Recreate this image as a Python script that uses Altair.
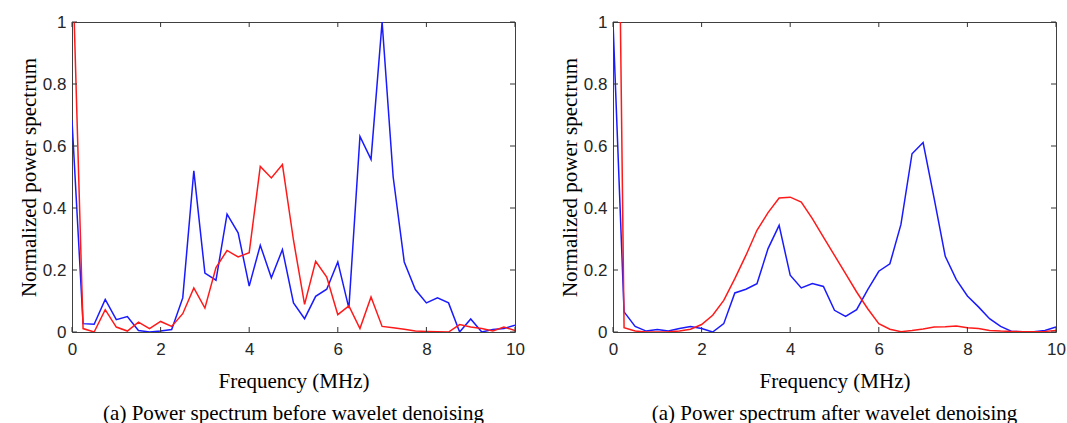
import altair as alt
import pandas as pd

freq = [0.0, 0.25, 0.5, 0.75, 1.0, 1.25, 1.5, 1.75, 2.0, 2.25, 2.5, 2.75, 3.0, 3.25, 3.5, 3.75,
        4.0, 4.25, 4.5, 4.75, 5.0, 5.25, 5.5, 5.75, 6.0, 6.25, 6.5, 6.75, 7.0, 7.25, 7.5, 7.75,
        8.0, 8.25, 8.5, 8.75, 9.0, 9.25, 9.5, 9.75, 10.0]

before_blue = [0.683, 0.027, 0.025, 0.105, 0.04, 0.05, 0.005, 0.0, 0.003, 0.008, 0.11, 0.52,
               0.19, 0.167, 0.38, 0.32, 0.148, 0.28, 0.175, 0.266, 0.094, 0.043, 0.115, 0.138,
               0.226, 0.077, 0.631, 0.557, 1.0, 0.5, 0.226, 0.137, 0.094, 0.11, 0.094, 0.0,
               0.042, 0.0, 0.008, 0.011, 0.022]
before_red = [1.25, 0.011, 0.0, 0.072, 0.016, 0.003, 0.032, 0.011, 0.034, 0.018, 0.059, 0.142,
              0.077, 0.208, 0.263, 0.242, 0.256, 0.534, 0.497, 0.54, 0.296, 0.089, 0.228, 0.177,
              0.056, 0.084, 0.011, 0.113, 0.018, 0.014, 0.009, 0.003, 0.002, 0.001, 0.0, 0.024,
              0.016, 0.011, 0.003, 0.016, 0.005]
after_blue = [1.0, 0.065, 0.018, 0.003, 0.008, 0.003, 0.011, 0.018, 0.011, 0.0, 0.027, 0.126,
              0.138, 0.156, 0.269, 0.344, 0.183, 0.142, 0.156, 0.147, 0.07, 0.05, 0.072, 0.137,
              0.196, 0.22, 0.347, 0.575, 0.611, 0.43, 0.244, 0.169, 0.116, 0.081, 0.043, 0.018,
              0.002, 0.001, 0.001, 0.005, 0.016]
after_red = [3.0, 0.014, 0.003, 0.0, 0.0, 0.001, 0.003, 0.009, 0.024, 0.054, 0.102, 0.172,
             0.247, 0.328, 0.385, 0.432, 0.435, 0.419, 0.366, 0.306, 0.247, 0.188, 0.129, 0.075,
             0.027, 0.009, 0.001, 0.005, 0.01, 0.016, 0.017, 0.019, 0.014, 0.011, 0.005, 0.003,
             0.002, 0.001, 0.001, 0.002, 0.005]

x_ticks = [0, 2, 4, 6, 8, 10]
y_ticks = [0, 0.2, 0.4, 0.6, 0.8, 1.0]
captions = ["(a) Power spectrum before wavelet denoising",
            "(a) Power spectrum after wavelet denoising"]

W, H = 443, 310
TICK = 5


def panel(blue, red, caption):
    df = pd.DataFrame({
        "f": freq * 2,
        "p": blue + red,
        "s": ["blue"] * len(freq) + ["red"] * len(freq),
    })
    xs = alt.Scale(domain=[0, 10], nice=False, zero=False)
    ys = alt.Scale(domain=[0, 1], nice=False)
    lines = alt.Chart(df).mark_line(strokeWidth=1.5, clip=True).encode(
        x=alt.X("f:Q", scale=xs,
                axis=alt.Axis(values=x_ticks, title="Frequency (MHz)", labelPadding=9,
                              titlePadding=13, labelFlush=False)),
        y=alt.Y("p:Q", scale=ys,
                axis=alt.Axis(values=y_ticks, format="~g", title="Normalized power spectrum",
                              labelPadding=6, titlePadding=3, labelFlush=False)),
        color=alt.Color("s:N", scale=alt.Scale(domain=["blue", "red"],
                                               range=["#1a1aff", "#ff1a1a"]), legend=None),
        detail="s:N",
    )
    xt = pd.DataFrame({"t": x_ticks})
    yt = pd.DataFrame({"t": y_ticks})
    tick_style = dict(color="#333333", strokeWidth=1)
    xb = alt.Chart(xt).mark_rule(**tick_style).encode(
        x=alt.X("t:Q", scale=xs), y=alt.value(H), y2=alt.value(H - TICK))
    xtop = alt.Chart(xt).mark_rule(**tick_style).encode(
        x=alt.X("t:Q", scale=xs), y=alt.value(0), y2=alt.value(TICK))
    yl = alt.Chart(yt).mark_rule(**tick_style).encode(
        y=alt.Y("t:Q", scale=ys), x=alt.value(0), x2=alt.value(TICK))
    yr = alt.Chart(yt).mark_rule(**tick_style).encode(
        y=alt.Y("t:Q", scale=ys), x=alt.value(W), x2=alt.value(W - TICK))
    return alt.layer(lines, xb, xtop, yl, yr).properties(
        width=W, height=H,
        title=alt.TitleParams(caption, orient="bottom", anchor="middle",
                              font="Liberation Serif", fontSize=21, fontWeight="normal",
                              color="#000000", offset=12),
    )


chart = alt.hconcat(
    panel(before_blue, before_red, captions[0]),
    panel(after_blue, after_red, captions[1]),
    spacing=33,
).properties(
    padding={"left": 17, "top": 12, "right": 0, "bottom": 0},
    background="white",
).configure_view(
    stroke="#404040", strokeWidth=1,
).configure_axis(
    grid=False, domain=False, ticks=False,
    labelFont="Liberation Sans", labelFontSize=17, labelColor="#262626",
    titleFont="Liberation Serif", titleFontSize=21, titleFontWeight="normal",
    titleColor="#000000",
)

chart.save("out.html", embed_options={"renderer": "svg", "actions": False})
